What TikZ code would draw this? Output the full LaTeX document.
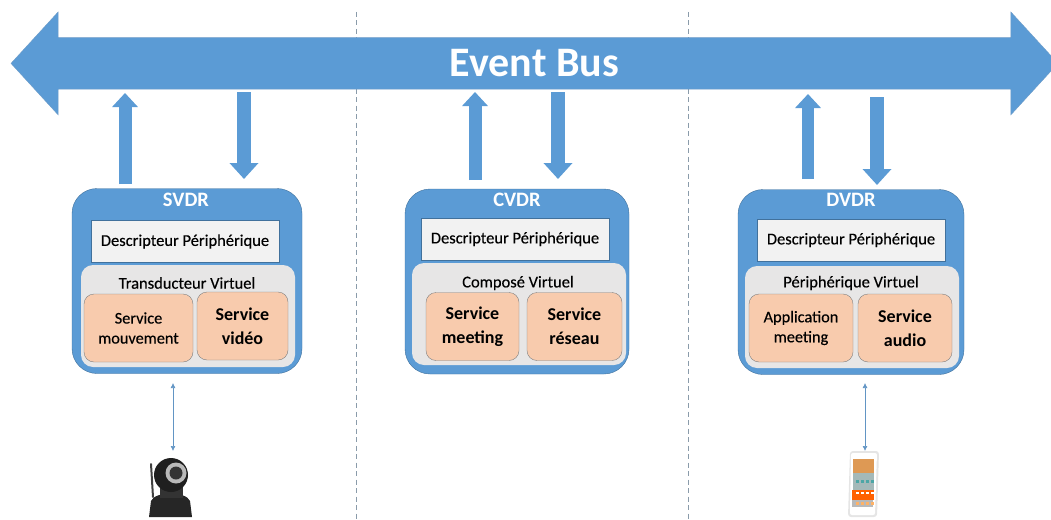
\documentclass[tikz,border=0pt]{standalone}
\usepackage{fontspec}
\setmainfont{Carlito}
\newfontfamily\semifont[FakeBold=0.3]{Carlito}
\usetikzlibrary{arrows.meta,shapes.arrows}
\definecolor{busblue}{HTML}{5B9BD5}
\definecolor{busedge}{HTML}{6E9CC8}
\definecolor{vdredge}{HTML}{41719C}
\definecolor{descgray}{HTML}{F2F2F2}
\definecolor{virtgray}{HTML}{E7E6E6}
\definecolor{servorange}{HTML}{F8CBAD}
\definecolor{servedge}{HTML}{7F7F7F}
\definecolor{sepgray}{HTML}{8A9BAA}
\tikzset{
  busarrow/.style={shape=double arrow,double arrow head extend=25.7pt,double arrow tip angle=95,
    minimum height=1047pt,inner xsep=0pt,inner ysep=12.5pt,text height=26pt,text depth=0pt,
    fill=busblue,draw=busedge,text=white,font=\fontsize{42}{42}\selectfont\bfseries},
  vdrbox/.style={draw=vdredge,fill=busblue,rounded corners=25pt,minimum width=#1,minimum height=185pt},
  vdrtitle/.style={text=white,inner sep=0pt,font=\fontsize{20.5}{20.5}\selectfont\bfseries},
  descbox/.style={draw=vdredge,fill=descgray,minimum width=188pt,minimum height=42pt,inner sep=0pt,
    font=\fontsize{16.5}{18}\semifont},
  virtbox/.style={fill=virtgray,rounded corners=12pt,minimum width=214pt,minimum height=102pt},
  virttitle/.style={inner sep=0pt,font=\fontsize{16.5}{18}\semifont},
  servbox/.style={draw=servedge,fill=servorange,rounded corners=10pt,minimum width=#1,minimum height=68pt,
    inner sep=0pt,align=center,font=\fontsize{16.3}{20}\semifont},
  servbold/.style={servbox=#1,font=\fontsize{18}{24}\selectfont\bfseries},
  flowup/.style={draw=busblue,line width=13pt,-{Triangle[width=25pt,length=14pt,fill=busblue]}},
  flowdown/.style={draw=busblue,line width=14pt,-{Triangle[width=28pt,length=16pt,fill=busblue]}},
  devlink/.style={draw=busblue!80!gray,line width=0.7pt,{Latex[length=5pt,width=5pt]}-{Latex[length=5pt,width=5pt]}},
  separator/.style={draw=sepgray,line width=0.7pt,dash pattern=on 5pt off 3.5pt}
}
\begin{document}
\begin{tikzpicture}[x=1pt,y=-1pt]
  \useasboundingbox (0,0) rectangle (1051,519);
  % separators
  \coordinate (septopa) at (356,12);
  \coordinate (sepbota) at (356,519);
  \coordinate (septopb) at (688,12);
  \coordinate (sepbotb) at (688,519);
  \draw[separator] (septopa) -- (sepbota);
  \draw[separator] (septopb) -- (sepbotb);
  % bus
  \node[busarrow] (bus) at (534.5,63.4) {Event Bus};
  % svdr
  \node[vdrbox=230pt] (svdr) at (187,281) {};
  \node[vdrtitle] (svdrtitle) at (186,200) {SVDR};
  \node[descbox] (svdrdesc) at (185,241.5) {Descripteur Périphérique};
  \node[virtbox] (svdrvirt) at (188,316) {};
  \node[virttitle] (svdrvirttitle) at (187,283) {Transducteur Virtuel};
  \node[servbox=109pt] (svdrleft) at (138.5,328) {Service\\mouvement};
  \node[servbold=91pt] (svdrright) at (242.5,326) {Service\\vidéo};
  % cvdr
  \node[vdrbox=224pt] (cvdr) at (517,281.5) {};
  \node[vdrtitle] (cvdrtitle) at (517,200) {CVDR};
  \node[descbox] (cvdrdesc) at (515,239) {Descripteur Périphérique};
  \node[virtbox] (cvdrvirt) at (519,314) {};
  \node[virttitle] (cvdrvirttitle) at (518,283) {Composé Virtuel};
  \node[servbold=93pt] (cvdrleft) at (472.5,326.5) {Service\\meeting};
  \node[servbold=95pt] (cvdrright) at (574.5,326.5) {Service\\réseau};
  % dvdr
  \node[vdrbox=226pt] (dvdr) at (851,282) {};
  \node[vdrtitle] (dvdrtitle) at (851,200) {DVDR};
  \node[descbox] (dvdrdesc) at (851,240) {Descripteur Périphérique};
  \node[virtbox] (dvdrvirt) at (852,317) {};
  \node[virttitle] (dvdrvirttitle) at (851,283) {Périphérique Virtuel};
  \node[servbox=104pt] (dvdrleft) at (801,328) {Application\\meeting};
  \node[servbold=94pt] (dvdrright) at (905,328) {Service\\audio};
  % flows
  \coordinate (svdrouta) at (125,184);
  \coordinate (svdrouttip) at (125,93);
  \coordinate (svdrintop) at (244,92);
  \coordinate (svdrintip) at (244,179);
  \coordinate (cvdrouta) at (475,180);
  \coordinate (cvdrouttip) at (475,92);
  \coordinate (cvdrintop) at (558,92);
  \coordinate (cvdrintip) at (558,179);
  \coordinate (dvdrouta) at (808,179);
  \coordinate (dvdrouttip) at (808,94);
  \coordinate (dvdrintop) at (877,97);
  \coordinate (dvdrintip) at (877,185);
  \draw[flowup] (svdrouta) -- (svdrouttip);
  \draw[flowdown] (svdrintop) -- (svdrintip);
  \draw[flowup] (cvdrouta) -- (cvdrouttip);
  \draw[flowdown] (cvdrintop) -- (cvdrintip);
  \draw[flowup,line width=12pt] (dvdrouta) -- (dvdrouttip);
  \draw[flowdown] (dvdrintop) -- (dvdrintip);
  % device links
  \coordinate (camtop) at (173,383);
  \coordinate (camlink) at (173,451);
  \coordinate (phonetop) at (865,383);
  \coordinate (phonelink) at (865,451);
  \draw[devlink] (camtop) -- (camlink);
  \draw[devlink] (phonetop) -- (phonelink);
  % camera
  \draw[line width=2pt,black!75,line cap=round] (151,464) -- (153,497);
  \fill[black!85] (149,517) -- (151,501) .. controls (155,491) and (186,491) .. (190,501) -- (192,517) -- cycle;
  \fill[black!80] (160,484) rectangle (183,498);
  \fill[black!88] (171,475) circle (17pt);
  \fill[gray!55] (176,473) circle (10.5pt);
  \fill[black!80] (176,473) circle (6.5pt);
  % phone
  \fill[gray!20,rounded corners=3pt] (850,451) -- (879,451) -- (877,517) -- (848,517) -- cycle;
  \fill[white,rounded corners=2pt] (851,453) -- (877,453) -- (875,515) -- (850,515) -- cycle;
  \fill[brown!65!orange!80] (853,459) rectangle (874,473);
  \fill[teal!30!gray!55] (853,473) rectangle (874,490);
  \fill[orange!75!red] (852,490) rectangle (874,500);
  \fill[gray!55] (852,500) rectangle (873,507);
  \foreach \xpos in {856,861,866,871}{
    \fill[white] (\xpos,492) rectangle +(3,2);
    \fill[teal!70] (\xpos,480) rectangle +(3,3);
    \fill[orange!60] (\xpos,502) rectangle +(3,3);
  }
\end{tikzpicture}
\end{document}
